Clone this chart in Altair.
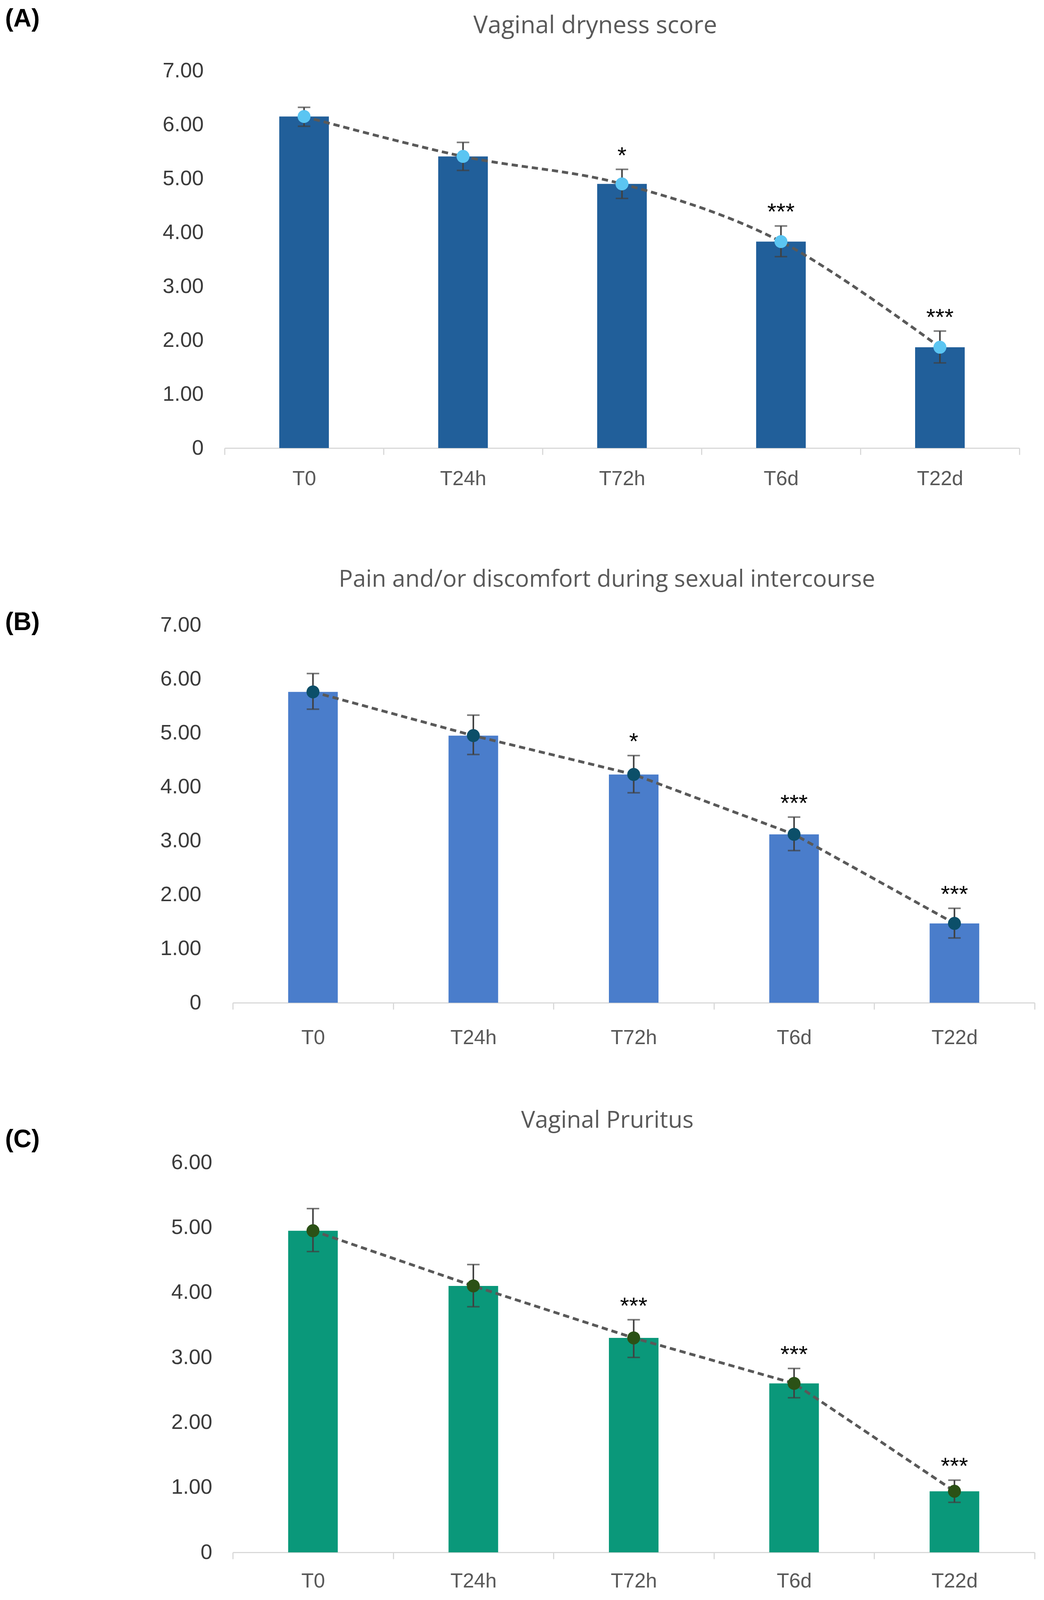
import altair as alt
import pandas as pd

times = ["T0", "T24h", "T72h", "T6d", "T22d"]

# (A) Vaginal dryness score
dry_mean = [6.15, 5.41, 4.90, 3.83, 1.87]
dry_lo = [5.97, 5.15, 4.63, 3.55, 1.58]
dry_hi = [6.32, 5.67, 5.17, 4.12, 2.17]
dry_sig = ["", "", "*", "***", "***"]

# (B) Pain and/or discomfort during sexual intercourse
pain_mean = [5.76, 4.95, 4.23, 3.12, 1.47]
pain_lo = [5.44, 4.60, 3.89, 2.82, 1.20]
pain_hi = [6.10, 5.33, 4.58, 3.44, 1.75]
pain_sig = ["", "", "*", "***", "***"]

# (C) Vaginal Pruritus
prur_mean = [4.95, 4.10, 3.30, 2.60, 0.94]
prur_lo = [4.63, 3.78, 3.00, 2.38, 0.77]
prur_hi = [5.29, 4.43, 3.58, 2.83, 1.11]
prur_sig = ["", "", "***", "***", "***"]

LABEL_FONT = "Liberation Sans"
TITLE_FONT = "Open Sans"
W = 2074


def panel(mean, lo, hi, sig, title, tag, ymax, bar_color, dot_color, interp,
          h, xrange, title_x, title_y, title_size, tag_y, ylabpad, xlabpad,
          spacer_y=None):
    df = pd.DataFrame({"t": times, "mean": mean, "lo": lo, "hi": hi, "sig": sig})
    base = alt.Chart(df)

    xenc = lambda: alt.X(
        "t:N", sort=times,
        scale=alt.Scale(range=xrange, paddingInner=0, paddingOuter=0),
        axis=alt.Axis(title=None, labelAngle=0, labelFont=LABEL_FONT,
                      labelFontSize=52, labelColor="#595959",
                      labelPadding=xlabpad, domainColor="#D9D9D9",
                      domainWidth=3, tickColor="#D9D9D9", tickWidth=3,
                      tickSize=17, tickBand="extent"))
    yscale = alt.Scale(domain=[0, ymax], nice=False, zero=True)
    yaxis = alt.Axis(title=None, values=list(range(ymax + 1)),
                     labelExpr="datum.value == 0 ? '0' : format(datum.value, '.2f')",
                     domain=False, ticks=False, grid=False,
                     labelPadding=ylabpad, labelFont=LABEL_FONT,
                     labelFontSize=54, labelColor="#3B3B3B")
    yenc = lambda f: alt.Y(f + ":Q", scale=yscale, axis=yaxis)

    bars = base.mark_bar(size=127, color=bar_color).encode(x=xenc(), y=yenc("mean"))
    line = base.mark_line(color="#595959", strokeWidth=7, strokeDash=[16, 10],
                          interpolate=interp).encode(x=xenc(), y=yenc("mean"))
    rule = base.mark_rule(color="#404040", strokeWidth=4).encode(
        x=xenc(), y=yenc("lo"), y2="hi:Q")
    cap_lo = base.mark_tick(color="#404040", thickness=4, size=32).encode(
        x=xenc(), y=yenc("lo"))
    cap_hi = base.mark_tick(color="#404040", thickness=4, size=32).encode(
        x=xenc(), y=yenc("hi"))
    dots = base.mark_circle(size=1100, color=dot_color, opacity=1).encode(
        x=xenc(), y=yenc("mean"))
    stars = base.mark_text(font=LABEL_FONT, fontSize=60, baseline="alphabetic",
                           dy=-16, color="#000000").encode(
        x=xenc(), y=yenc("hi"), text="sig:N")

    ttl = alt.Chart(pd.DataFrame({"label": [title]})).mark_text(
        font=TITLE_FONT, fontSize=title_size, color="#595959",
        align="center", baseline="middle").encode(
        x=alt.value(title_x), y=alt.value(title_y), text="label:N")
    tg = alt.Chart(pd.DataFrame({"label": [tag]})).mark_text(
        font=LABEL_FONT, fontSize=64, fontWeight="bold", color="#000000",
        align="left", baseline="middle").encode(
        x=alt.value(-562), y=alt.value(tag_y), text="label:N")

    layers = [bars, line, rule, cap_lo, cap_hi, dots, stars, ttl, tg]
    if spacer_y is not None:
        sp = alt.Chart(pd.DataFrame({"label": [tag]})).mark_point(
            opacity=0, size=10).encode(x=alt.value(0), y=alt.value(spacer_y))
        layers.append(sp)
    return alt.layer(*layers).properties(width=W, height=h)


pA = panel(dry_mean, dry_lo, dry_hi, dry_sig, "Vaginal dryness score", "(A)",
           7, "#215F9A", "#5BC5F2", "cardinal", 966, [0, 2035],
           949, -115, 62, -132, 54, 36, spacer_y=1114)
pB = panel(pain_mean, pain_lo, pain_hi, pain_sig,
           "Pain and/or discomfort during sexual intercourse", "(B)",
           7, "#4A7DCB", "#0C4F69", "linear", 967, [21, 2074],
           979, -116, 60, -6, 60, 47)
pC = panel(prur_mean, prur_lo, prur_hi, prur_sig, "Vaginal Pruritus", "(C)",
           6, "#0A987A", "#2B5116", "linear", 998, [21, 2074],
           980, -107, 60, -58, 32, 31)

chart = alt.vconcat(pA, pB, pC, spacing=157).properties(
    padding={"top": 9, "left": 5, "right": 5, "bottom": 0},
    background="white",
).configure_view(stroke=None)

chart.save("out.html", embed_options={"renderer": "svg", "actions": False})
